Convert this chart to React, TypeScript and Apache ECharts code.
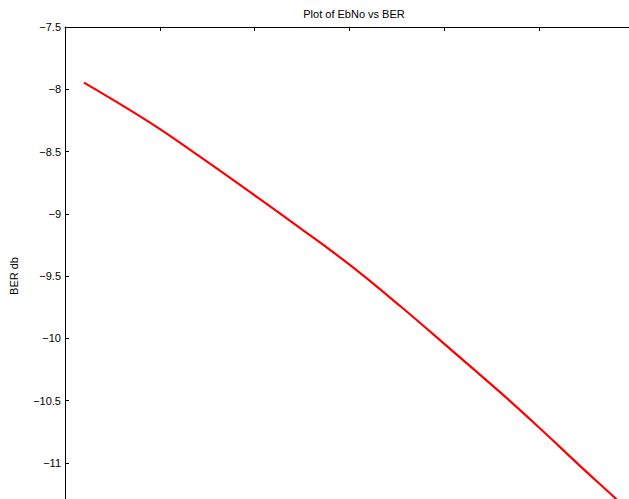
import React, { useEffect, useRef } from "react";
import * as echarts from "echarts";

const titleText = "Plot of EbNo vs BER";
const yName = "BER db";
const ebno = [0.2, 0.9, 1.43, 1.96, 2.48, 3.01, 3.54, 4.06, 4.59, 5.01, 5.43, 5.81, 6.0];
const berDb = [-7.947, -8.27, -8.545, -8.83, -9.115, -9.415, -9.745, -10.085, -10.435, -10.725, -11.025, -11.29, -11.43];

export default function App() {
  const ref = useRef<HTMLDivElement>(null);
  useEffect(() => {
    document.body.style.margin = "0";
    const chart = echarts.init(ref.current!, null, { renderer: "svg" });
    const font = "Liberation Sans, Arial, sans-serif";
    chart.setOption({
      animation: false,
      backgroundColor: "#ffffff",
      title: {
        text: titleText,
        left: 349,
        top: 3,
        textAlign: "center",
        textStyle: { fontSize: 11, fontWeight: "normal", color: "#000", fontFamily: font },
      },
      grid: { left: 64, top: 27, width: 570, height: 498, containLabel: false },
      xAxis: {
        type: "value",
        position: "top",
        min: 0,
        max: 6,
        interval: 1,
        axisLine: { show: true, lineStyle: { color: "#000", width: 1 } },
        axisTick: { show: true, inside: true, length: 4, lineStyle: { color: "#000" } },
        axisLabel: { show: false },
        splitLine: { show: false },
      },
      yAxis: {
        type: "value",
        min: -11.5,
        max: -7.5,
        interval: 0.5,
        name: yName,
        nameLocation: "middle",
        nameRotate: 90,
        nameGap: 46,
        nameTextStyle: { fontSize: 11, color: "#000", fontFamily: font },
        axisLine: { show: true, lineStyle: { color: "#000", width: 1 } },
        axisTick: { show: true, inside: true, length: 4, lineStyle: { color: "#000" } },
        axisLabel: {
          margin: 4,
          fontSize: 11,
          color: "#000",
          fontFamily: font,
          showMinLabel: false,
          formatter: (v: number) => String(v).replace("-", "\u2212"),
        },
        splitLine: { show: false },
      },
      series: [
        {
          type: "line",
          data: ebno.map((x, i) => [x, berDb[i]]),
          showSymbol: false,
          smooth: 0.4,
          clip: true,
          lineStyle: { color: "#ff0000", width: 2.2 },
        },
      ],
    });
    return () => chart.dispose();
  }, []);
  return (
    <div style={{ width: 629, height: 499, overflow: "hidden", position: "relative" }}>
      <div ref={ref} style={{ width: 660, height: 560 }} />
    </div>
  );
}
